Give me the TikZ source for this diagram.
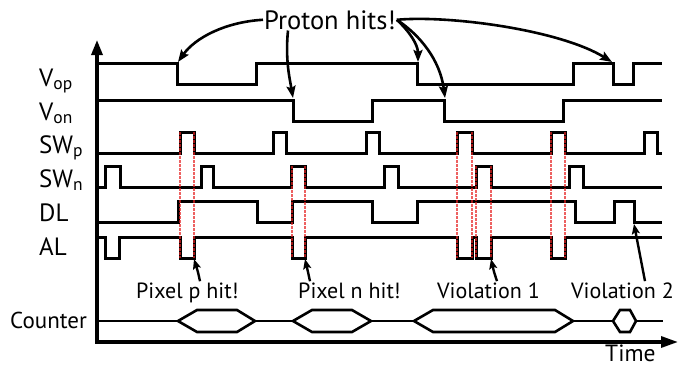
\documentclass[tikz,border=0pt]{standalone}
\usepackage{fontspec}
\setmainfont{PT Sans}
\usetikzlibrary{arrows.meta}
\definecolor{hitred}{RGB}{230,30,30}
\tikzset{
  wave/.style={line width=3pt},
  axis/.style={line width=3.2pt},
  cnt/.style={line width=2.6pt},
  hitline/.style={line width=2.2pt, draw=hitred, draw opacity=0.7, dash pattern=on 2.5pt off 1.5pt},
  bigarrow/.style={line width=2.6pt, -{Stealth[length=12pt,width=9pt,inset=2pt]}},
  smallarrow/.style={line width=2.4pt, -{Stealth[length=10pt,width=8pt,inset=2pt]}},
  siglab/.style={inner sep=0pt, anchor=base west, font=\fontsize{25}{30}\selectfont},
  note/.style={inner sep=1pt, anchor=base west, font=\fontsize{22}{26}\selectfont},
}
\begin{document}
\begin{tikzpicture}[x=1pt,y=-1pt]
\useasboundingbox (0,0) rectangle (680,367);
\foreach \y/\lab in {86/{V\textsubscript{op}},120/{V\textsubscript{on}},153/{SW\textsubscript{p}},187/{SW\textsubscript{n}},221/{DL},255/{AL}}{
  \node[siglab] (lab\y) at (39,\y) {\lab};
}
\node[note, font=\fontsize{23}{27}\selectfont] (counter) at (9,328) {Counter};
\draw[axis, {Triangle[length=15pt,width=11pt]}-{Triangle[length=17pt,width=11pt]}] (97,40) -- (97,342) -- (678,342);
\node[note, inner sep=0pt, font=\fontsize{23.5}{28}\selectfont] (time) at (605,361) {Time};
\draw[wave] (97,63.5) -- (177,63.5) |- (256,84) |- (417,63.5) |- (573,84) |- (613,63.5) |- (633,84) |- (662,63.5);
\draw[wave] (97,100) -- (293,100) |- (372,121) |- (444,100) |- (563,121) |- (662,100);
\draw[wave] (97,153) -- (180,153) |- (194,132) |- (273,153) |- (286,132) |- (366,153) |- (379,132) |- (457,153) |- (472,132) |- (551,153) |- (565,132) |- (644,153) |- (657,132) |- (662,153);
\draw[wave] (97,187) -- (105,187) |- (120,166) |- (201,187) |- (213,166) |- (291,187) |- (305,166) |- (384,187) |- (398,166) |- (476,187) |- (491,166) |- (569,187) |- (583,166) |- (662,187);
\draw[wave] (97,222) -- (178,222) |- (257,201) |- (292,222) |- (372,201) |- (417,222) |- (575,201) |- (614,222) |- (634,201) |- (662,222);
\draw[wave] (97,237) -- (105,237) |- (119,258) |- (180,237) |- (194,258) |- (292,237) |- (305,258) |- (457,237) |- (472,258) |- (476,237) |- (491,258) |- (551,237) |- (565,258) |- (662,237);
\foreach \x/\t in {180/132,194/132,292/166,305/166,457/132,472/132,476/166,491/166,551/132,565/132}{
  \draw[hitline] (\x,\t) -- (\x,258);
}
\foreach \a/\b in {97/178,255/293,371/414,573/613,636/663}{
  \draw[cnt] (\a,321) -- (\b,321);
}
\foreach \l/\m/\n/\r in {178/197/237/255,293/312/352/371,414/433/555/573,613/620/630/636}{
  \draw[cnt] (\l,321) -- (\m,310) -- (\n,310) -- (\r,321) -- (\n,332) -- (\m,332) -- cycle;
}
\node[note, font=\fontsize{26.5}{31}\selectfont] (proton) at (263,29) {Proton hits!};
\coordinate (vopA) at (178,62);
\coordinate (vonA) at (293,98);
\coordinate (vopB) at (418,62);
\coordinate (vonB) at (445,98);
\coordinate (vopC) at (612,62);
\draw[bigarrow] (proton.west) .. controls (225,22) and (195,38) .. (vopA);
\draw[bigarrow] ([xshift=25pt]proton.south west) .. controls (285,60) and (290,80) .. (vonA);
\draw[bigarrow] (proton.east) .. controls (410,32) and (418,45) .. (vopB);
\draw[bigarrow] (proton.east) .. controls (420,35) and (440,60) .. (vonB);
\draw[bigarrow] (proton.east) .. controls (450,15) and (560,30) .. (vopC);
\node[note] (pixp) at (135,298) {Pixel p hit!};
\node[note] (pixn) at (297,298) {Pixel n hit!};
\node[note] (viol1) at (436,298) {Violation 1};
\node[note] (viol2) at (570,298) {Violation 2};
\coordinate (alP) at (194,259);
\coordinate (alN) at (305,259);
\coordinate (alV) at (491,259);
\coordinate (dlV) at (634,224);
\draw[smallarrow] ([xshift=65pt]pixp.north west) .. controls (198,272) .. (alP);
\draw[smallarrow] ([xshift=13pt]pixn.north west) .. controls (308,272) .. (alN);
\draw[smallarrow] ([xshift=61pt]viol1.north west) .. controls (494,272) .. (alV);
\draw[smallarrow] ([xshift=75pt]viol2.north west) -- (dlV);
\end{tikzpicture}
\end{document}
